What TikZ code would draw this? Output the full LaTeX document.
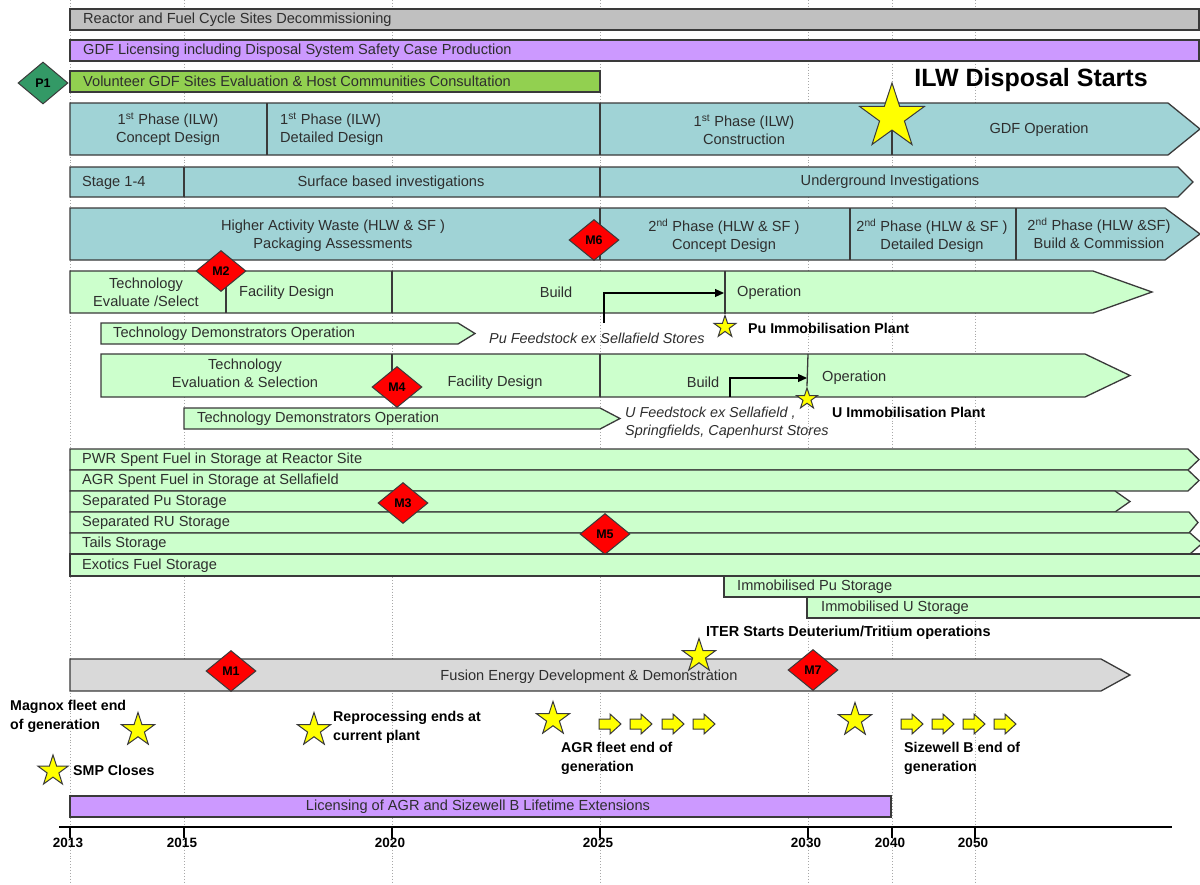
\documentclass[tikz,border=0pt]{standalone}
\usepackage{fontspec}
\setmainfont{Liberation Sans}
\usetikzlibrary{shapes.geometric,arrows.meta}

\definecolor{edge}{HTML}{3A3A3A}
\definecolor{ink}{HTML}{2E2E2E}
\definecolor{decomgray}{HTML}{C0C0C0}
\definecolor{licpurple}{HTML}{CC99FF}
\definecolor{sitegreen}{HTML}{92D050}
\definecolor{pgreen}{HTML}{339966}
\definecolor{gdfteal}{HTML}{A0D3D6}
\definecolor{palegreen}{HTML}{CCFFCC}
\definecolor{fusiongray}{HTML}{D9D9D9}
\definecolor{msred}{HTML}{FF0000}
\definecolor{staryellow}{HTML}{FFFF00}
\definecolor{gridgray}{HTML}{A8A8A8}

\tikzset{
  barline/.style={draw=edge,line width=1.3pt,line join=miter},
  btxt/.style={font=\fontsize{14.6}{18}\selectfont,text=ink,inner sep=0pt,align=center},
  ltxt/.style={btxt,anchor=west,align=left},
  itxt/.style={ltxt,font=\itshape\fontsize{14.4}{18}\selectfont},
  note/.style={font=\bfseries\fontsize{14.2}{19}\selectfont,text=black,inner sep=0pt,anchor=west,align=left},
  mile/.style={diamond,draw=edge,line width=1pt,fill=msred,minimum width=50pt,minimum height=41pt,inner sep=0pt,font=\bfseries\fontsize{12.5}{12.5}\selectfont},
  event/.style={star,star points=5,star point ratio=2.6,draw=edge,line width=1pt,fill=staryellow,inner sep=0pt,minimum size=#1},
  yearline/.style={draw=gridgray,dotted,line width=0.9pt},
  feed/.style={draw=black,line width=1.2pt,-{Triangle[length=9pt,width=8pt]}},
  yarrow/.style={draw=edge,line width=1pt,fill=staryellow,line join=miter},
  yeartxt/.style={font=\bfseries\fontsize{13.5}{15}\selectfont,inner sep=0pt}
}

% bar ending in an arrow point: x-start, top, end of straight part, tip, bottom, fill
\newcommand{\chevbar}[6]{\draw[barline,fill=#6] (#1,#2) -- (#3,#2) -- (#4,{(#2+#5)/2}) -- (#3,#5) -- (#1,#5) -- cycle;}
% small block arrow centred at (x,y)
\newcommand{\goarrow}[2]{\draw[yarrow] ({#1-11},{#2-5}) -- ({#1},{#2-5}) -- ({#1},{#2-10}) -- ({#1+11},{#2}) -- ({#1},{#2+10}) -- ({#1},{#2+5}) -- ({#1-11},{#2+5}) -- cycle;}

\begin{document}
\begin{tikzpicture}[x=1pt,y=-1pt]
\useasboundingbox (0,0) rectangle (1200,884);
\fill[white] (0,0) rectangle (1200,884);

% year gridlines
\foreach \gx in {70,184,392,600,808,892,975}
  \draw[yearline] (\gx,0) -- (\gx,884);

% ---- programme-wide bars ----
\draw[barline,fill=decomgray] (70,9) rectangle (1199,30);
\node[ltxt] (decom) at (83,19.5) {Reactor and Fuel Cycle Sites Decommissioning};

\draw[barline,fill=licpurple] (70,40) rectangle (1199,61);
\node[ltxt] (gdflic) at (83,50.5) {GDF Licensing including Disposal System Safety Case Production};

\draw[barline,fill=sitegreen] (70,71) rectangle (600,92);
\node[ltxt] (sites) at (83,81.5) {Volunteer GDF Sites Evaluation \& Host Communities Consultation};
\node[diamond,draw=edge,line width=1pt,fill=pgreen,minimum width=50pt,minimum height=42pt,inner sep=0pt,font=\bfseries\fontsize{12.5}{12.5}\selectfont] (p1) at (43,83) {P1};

\node[font=\bfseries\fontsize{25}{25}\selectfont] (ilw) at (1031,80) {ILW Disposal Starts};

% ---- GDF first phase (ILW) ----
\chevbar{70}{103}{1168}{1200}{155}{gdfteal}
\draw[barline] (267,103) -- (267,155);
\draw[barline] (600,103) -- (600,155);
\draw[barline] (892,103) -- (892,155);
\node[btxt] (ilwcon) at (168,129.5) {1\textsuperscript{st} Phase (ILW)\\Concept Design};
\node[ltxt] (ilwdet) at (280,129.5) {1\textsuperscript{st} Phase (ILW)\\Detailed Design};
\node[btxt] (ilwbld) at (744,129.5) {1\textsuperscript{st} Phase (ILW)\\Construction};
\node[btxt] (gdfop) at (1039,129.5) {GDF Operation};
\node[event=68pt] (ilwstar) at (892,117) {};

% ---- site investigations ----
\chevbar{70}{167}{1178}{1193}{197}{gdfteal}
\draw[barline] (184,167) -- (184,197);
\draw[barline] (600,167) -- (600,197);
\node[ltxt] (stage) at (82,182.5) {Stage 1-4};
\node[btxt] (surf) at (391,182.5) {Surface based investigations};
\node[btxt] (under) at (890,181.5) {Underground Investigations};

% ---- GDF second phase (HLW & SF) ----
\chevbar{70}{208}{1165}{1200}{260}{gdfteal}
\draw[barline] (600,208) -- (600,260);
\draw[barline] (850,208) -- (850,260);
\draw[barline] (1016,208) -- (1016,260);
\node[btxt] (haw) at (333,235.5) {Higher Activity Waste (HLW \& SF )\\Packaging Assessments};
\node[btxt] (hlwcon) at (724,235.5) {2\textsuperscript{nd} Phase (HLW \& SF )\\Concept Design};
\node[btxt] (hlwdet) at (932,235.5) {2\textsuperscript{nd} Phase (HLW \& SF )\\Detailed Design};
\node[btxt] (hlwbld) at (1099,233.5) {2\textsuperscript{nd} Phase (HLW \&SF)\\Build \& Commission};
\node[mile] (m6) at (594,240) {M6};

% ---- Pu immobilisation plant ----
\chevbar{70}{271}{1093}{1152}{313}{palegreen}
\draw[barline] (226,271) -- (226,313);
\draw[barline] (392,271) -- (392,313);
\node[btxt] (putech) at (146,292.5) {Technology\\Evaluate /Select};
\node[ltxt] (pufac) at (239,292.5) {Facility Design};
\node[btxt] (publd) at (556,292.5) {Build};
\node[ltxt] (puop) at (737,292.5) {Operation};
\node[mile] (m2) at (221,271) {M2};
\node[event=23pt] (pustar) at (725,327) {};
\draw[barline] (725,271) -- (pustar.north);
\coordinate (pufeed) at (604,323);
\coordinate (puin) at (724,293);
\draw[feed] (pufeed) |- (puin);

\chevbar{101}{323}{458}{475}{344}{palegreen}
\node[ltxt] (pudemo) at (113,334) {Technology Demonstrators Operation};
\node[itxt] (pufeedtxt) at (489,338.5) {Pu Feedstock ex Sellafield Stores};
\node[note] (puplant) at (748,328.5) {Pu Immobilisation Plant};

% ---- U immobilisation plant ----
\chevbar{101}{354}{1085}{1130}{397}{palegreen}
\draw[barline] (392,354) -- (392,397);
\draw[barline] (600,354) -- (600,397);
\node[btxt] (utech) at (245,373.5) {Technology\\Evaluation \& Selection};
\node[btxt] (ufac) at (495,382.5) {Facility Design};
\node[btxt] (ubld) at (703,382.5) {Build};
\node[ltxt] (uop) at (822,377.5) {Operation};
\node[mile] (m4) at (397,387) {M4};
\node[event=22pt] (ustar) at (807,399) {};
\draw[barline] (808,354) -- (ustar.north);
\coordinate (ufeed) at (730,397);
\coordinate (uin) at (807,378);
\draw[feed] (ufeed) |- (uin);

\chevbar{184}{408}{600}{620}{429}{palegreen}
\node[ltxt] (udemo) at (197,419) {Technology Demonstrators Operation};
\node[itxt] (ufeedtxt) at (625,422.5) {U Feedstock ex Sellafield ,\\Springfields, Capenhurst Stores};
\node[note] (uplant) at (832,412.5) {U Immobilisation Plant};

% ---- material storage ----
\chevbar{70}{449}{1188}{1199}{470}{palegreen}
\node[ltxt] (pwr) at (82,460) {PWR Spent Fuel in Storage at Reactor Site};
\chevbar{70}{470}{1188}{1199}{491}{palegreen}
\node[ltxt] (agr) at (82,481) {AGR Spent Fuel in Storage at Sellafield};
\chevbar{70}{491}{1115}{1130}{512}{palegreen}
\node[ltxt] (sepu) at (82,502) {Separated Pu Storage};
\chevbar{70}{512}{1189}{1198}{533}{palegreen}
\node[ltxt] (seru) at (82,523) {Separated RU Storage};
\chevbar{70}{533}{1190}{1202}{554}{palegreen}
\node[ltxt] (tails) at (82,544) {Tails Storage};
\draw[barline,fill=palegreen] (70,554) rectangle (1201,576);
\node[ltxt] (exot) at (82,565.5) {Exotics Fuel Storage};
\draw[barline,fill=palegreen] (724,576) rectangle (1201,597);
\node[ltxt] (impu) at (737,587) {Immobilised Pu Storage};
\draw[barline,fill=palegreen] (807,597) rectangle (1201,618);
\node[ltxt] (imu) at (821,608) {Immobilised U Storage};
\node[mile] (m3) at (403,503) {M3};
\node[mile] (m5) at (605,534) {M5};

% ---- fusion ----
\node[note,font=\bfseries\fontsize{14.5}{16}\selectfont] (iter) at (706,633) {ITER Starts Deuterium/Tritium operations};
\chevbar{70}{659}{1101}{1130}{691}{fusiongray}
\node[btxt] (fusion) at (589,676.5) {Fusion Energy Development \& Demonstration};
\node[event=35pt] (iterstar) at (699,656) {};
\node[mile] (m1) at (231,671) {M1};
\node[mile] (m7) at (813,670) {M7};

% ---- reactor fleet events ----
\node[event=35pt] (magstar) at (138,730) {};
\node[note] (magtxt) at (10,716.5) {Magnox fleet end\\of generation};
\node[event=32pt] (smpstar) at (53,771) {};
\node[note] (smptxt) at (73,770) {SMP Closes};
\node[event=35pt] (repstar) at (314,730) {};
\node[note] (reptxt) at (333,727) {Reprocessing ends at\\current plant};
\node[event=35pt] (agrstar) at (553,719) {};
\node[note] (agrtxt) at (561,758) {AGR fleet end of\\generation};
\node[event=35pt] (szbstar) at (855,720) {};
\node[note] (szbtxt) at (904,758) {Sizewell B end of\\generation};
\goarrow{610}{724}
\goarrow{641}{724}
\goarrow{673}{724}
\goarrow{704}{724}
\goarrow{912}{724}
\goarrow{943}{724}
\goarrow{974}{724}
\goarrow{1005}{724}

\draw[barline,fill=licpurple] (70,796) rectangle (891,817);
\node[btxt] (ext) at (478,807) {Licensing of AGR and Sizewell B Lifetime Extensions};

% ---- time axis ----
\draw[line width=1.3pt] (59,827) -- (1172,827);
\foreach \yr/\gx in {2013/70,2015/184,2020/392,2025/600,2030/808,2040/892,2050/975} {
  \draw[line width=1.3pt] (\gx,827) -- (\gx,838);
  \node[yeartxt] (y\yr) at ({\gx-2},843) {\yr};
}
\end{tikzpicture}
\end{document}
